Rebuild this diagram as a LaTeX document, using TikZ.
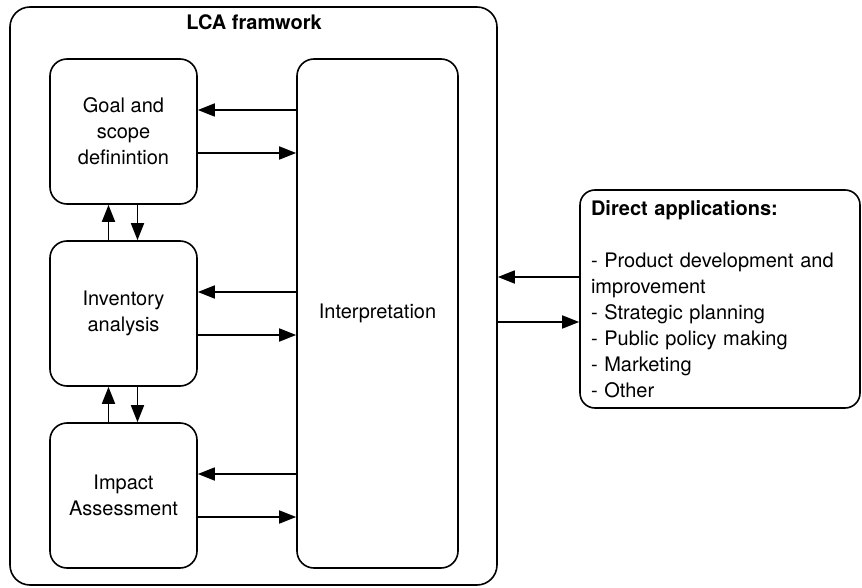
\documentclass[tikz,border=0pt]{standalone}
\usepackage{fontspec}
\setmainfont{TeX Gyre Heros}
\usetikzlibrary{arrows.meta}
\begin{document}
\begin{tikzpicture}[x=1pt,y=-1pt,
  every node/.style={font=\fontsize{20}{26}\selectfont},
  box/.style={draw,line width=1.6pt,rounded corners=17pt,inner sep=0pt,align=center},
  arr/.style={line width=1.6pt,-{Triangle[length=17pt,width=13pt]}}]
\useasboundingbox (0,0) rectangle (862,588);

% frame of the LCA stages
\node[box,rounded corners=20pt,minimum width=487pt,minimum height=578pt] (frame) at (253.5,296) {};
\node[font=\fontsize{20}{26}\selectfont\bfseries] (title) at (254,22) {LCA framwork};

% stage boxes
\node[box,minimum width=147pt,minimum height=145pt] (goal) at (123.5,131.5) {Goal and\\scope\\definintion};
\node[box,minimum width=147pt,minimum height=145pt] (inv) at (123.5,313.5) {Inventory\\analysis};
\node[box,minimum width=147pt,minimum height=145pt] (imp) at (123.5,495.5) {Impact\\Assessment};
\node[box,minimum width=161pt,minimum height=509pt] (interp) at (377.5,313.5) {Interpretation};

% applications
\node[box,rounded corners=15pt,align=left,text width=258pt,inner xsep=11pt,minimum height=218pt] (apps) at (720,299)
  {\textbf{Direct applications:}\\[26pt]- Product development and\\improvement\\- Strategic planning\\- Public policy making\\- Marketing\\- Other};

% horizontal links between stages and interpretation
\foreach \s in {goal,inv,imp}{
  \coordinate (\s-a) at ([yshift=21.5pt]\s.east);
  \coordinate (\s-b) at ([yshift=-21.5pt]\s.east);
  \draw[arr] (\s-a -| interp.west) -- (\s-a);
  \draw[arr] (\s-b) -- (\s-b -| interp.west);
}

% vertical links between stages
\draw[arr] ([xshift=-15pt]inv.north) -- ([xshift=-15pt]goal.south);
\draw[arr] ([xshift=14pt]goal.south) -- ([xshift=14pt]inv.north);
\draw[arr] ([xshift=-15pt]imp.north) -- ([xshift=-15pt]inv.south);
\draw[arr] ([xshift=14pt]inv.south) -- ([xshift=14pt]imp.north);

% links between framework and applications
\coordinate (ap-a) at ([yshift=22pt]apps.west);
\coordinate (ap-b) at ([yshift=-23pt]apps.west);
\draw[arr] (ap-a) -- (ap-a -| frame.east);
\draw[arr] (ap-b -| frame.east) -- (ap-b);
\end{tikzpicture}
\end{document}
